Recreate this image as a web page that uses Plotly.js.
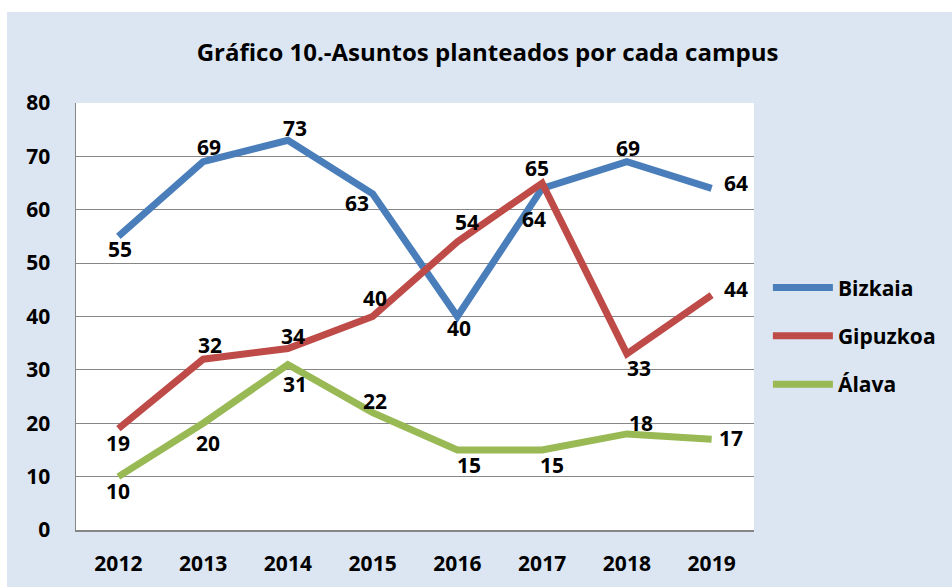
<!DOCTYPE html>
<html><head><meta charset="utf-8">
<script src="https://cdn.plot.ly/plotly-3.0.1.min.js"></script>
<style>
html,body{margin:0;padding:0;background:#fff;}
#chart{position:absolute;left:7px;top:12px;width:945px;height:575px;}
</style></head>
<body><div id="chart"></div>
<script>
const years = ['2012','2013','2014','2015','2016','2017','2018','2019'];
const bizkaia = [55, 69, 73, 63, 40, 64, 69, 64];
const gipuzkoa = [19, 32, 34, 40, 54, 65, 33, 44];
const alava = [10, 20, 31, 22, 15, 15, 18, 17];
const seriesNames = ['Bizkaia', 'Gipuzkoa', 'Álava'];
const colors = ['#4a7ebb', '#be4b48', '#98b954'];

// label offsets in screen pixels [dx, dy(down)] (styling only)
const offBizkaia  = [[2,13],[6,-15],[7,-12],[-16,9],[2,11],[-8,31],[1,-14],[10,-5]];
const offGipuzkoa = [[0,14],[7,-14],[5,-13],[2,-19],[10,-20],[-5,-15],[12,14],[10,-6]];
const offAlava    = [[0,14],[5,20],[7,19],[2,-12],[12,15],[10,15],[14,-11],[5,-1]];
const rightAnchored = [false,false,false,false,false,false,false,true];

const FONT = '"Open Sans", sans-serif';
const data = [bizkaia, gipuzkoa, alava].map((y, k) => ({
  x: years, y: y, name: seriesNames[k], type: 'scatter', mode: 'lines',
  line: {color: colors[k], width: 7}, hoverinfo: 'skip', legendgroup: 'g' + k
}));

const annotations = [];
const pairs = [[bizkaia, offBizkaia], [gipuzkoa, offGipuzkoa], [alava, offAlava]];
for (let k = 0; k < pairs.length; k++) {
  const vals = pairs[k][0], offs = pairs[k][1];
  for (let i = 0; i < vals.length; i++) {
    annotations.push({x: i, y: vals[i], xref: 'x', yref: 'y', text: '<b>' + vals[i] + '</b>', showarrow: false,
      xanchor: rightAnchored[i] ? 'left' : 'center', yanchor: 'middle',
      xshift: offs[i][0], yshift: -offs[i][1],
      font: {family: FONT, size: 21, color: '#000'}});
  }
}

const layout = {
  width: 945, height: 575,
  paper_bgcolor: '#dce6f2', plot_bgcolor: '#ffffff',
  margin: {l: 69, r: 197, t: 91, b: 57},
  font: {family: FONT, color: '#000'},
  title: {text: '<b>Gráfico 10.-Asuntos planteados por cada campus</b>',
    font: {family: FONT, size: 24, color: '#000'}, x: 0.5085, xanchor: 'center', y: 0.93, yanchor: 'middle'},
  xaxis: {type: 'category', range: [-0.5, 7.5], showgrid: false, zeroline: false,
    showline: true, linecolor: '#868686', linewidth: 1.5, ticks: '', ticklabelstandoff: 14,
    tickfont: {family: FONT, size: 21, color: '#000', weight: 'bold'}, fixedrange: true},
  yaxis: {range: [0, 80], dtick: 10, showgrid: true, gridcolor: '#868686', gridwidth: 1,
    zeroline: false, showline: true, linecolor: '#868686', linewidth: 1.5, ticks: '', ticklabelstandoff: 20,
    tickfont: {family: FONT, size: 21, color: '#000', weight: 'bold'}, fixedrange: true},
  annotations: annotations,
  showlegend: true,
  legend: {x: 1.019, xanchor: 'left', y: 0.615, yanchor: 'top', bgcolor: 'rgba(0,0,0,0)',
    font: {family: FONT, size: 21, color: '#000', weight: 'bold'}, tracegroupgap: 18, itemwidth: 60},
};
Plotly.newPlot('chart', data, layout, {displayModeBar: false, staticPlot: true});
</script></body></html>
